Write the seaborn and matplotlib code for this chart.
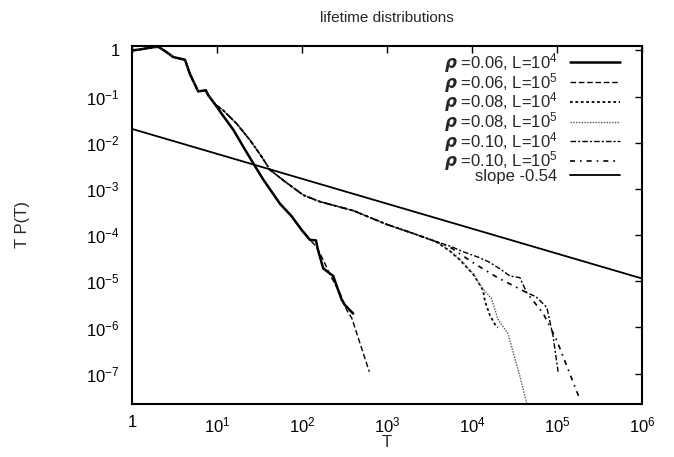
import matplotlib
matplotlib.use("Agg")
import matplotlib.pyplot as plt
import pandas as pd
import seaborn as sns

# shared head of every curve (T < 10)
head_T = [1, 1.24, 1.78, 2.04, 2.45, 3.06, 4.2, 4.8, 6.0, 7.4, 7.9, 9.5]
head_P = [1.0, 1.05, 1.18, 1.2, 0.97, 0.72, 0.63, 0.31, 0.13, 0.137, 0.107, 0.068]

# rho = 0.06
r06_L4_T = [11.3, 15.6, 20.4, 26.7, 35, 55, 75, 99, 124, 146, 154, 178, 233, 266, 293, 318, 400]
r06_L4_P = [0.043, 0.019, 0.0082, 0.0036, 0.0016, 4.8e-4, 2.6e-4, 1.3e-4, 7.9e-5, 7.7e-5,
            4.8e-5, 1.9e-5, 1.3e-5, 6.5e-6, 4.0e-6, 3.1e-6, 2.0e-6]
r06_L5_T = [11.3, 15.6, 20.4, 26.7, 35, 55, 75, 99, 124, 148, 178, 213, 280, 335, 385, 480, 620]
r06_L5_P = [0.043, 0.019, 0.0082, 0.0036, 0.0016, 4.8e-4, 2.6e-4, 1.3e-4, 7.9e-5, 5.6e-5,
            2.9e-5, 1.4e-5, 5.5e-6, 2.4e-6, 1.6e-6, 4.6e-7, 1.1e-7]

# shared middle part of rho = 0.08 / 0.10
mid_T = [11.9, 17, 24.5, 33.5, 42, 60, 103, 163, 400, 1000, 2000, 3800]
mid_P = [0.05, 0.026, 0.0114, 0.005, 0.0026, 0.00155, 7.4e-4, 5.3e-4, 3.4e-4, 1.7e-4, 1.1e-4, 7.2e-5]

r08_L4_T = [5500, 7200, 10400, 13500, 14200, 16300, 19000, 20200]
r08_L4_P = [4.5e-5, 2.9e-5, 1.4e-5, 6.4e-6, 3.7e-6, 1.8e-6, 1.1e-6, 1.0e-6]
r08_L5_T = [5500, 7200, 10400, 13500, 16900, 20200, 26500, 30700, 36600, 44000]
r08_L5_P = [4.6e-5, 3.0e-5, 1.45e-5, 6.8e-6, 4.3e-6, 1.5e-6, 7.4e-7, 2.8e-7, 8.8e-8, 2.3e-8]
r10_L4_T = [5500, 7800, 12000, 16000, 21000, 28000, 36600, 44000, 57000, 76000, 90000, 103000]
r10_L4_P = [5.8e-5, 4.4e-5, 3.3e-5, 2.6e-5, 1.9e-5, 1.3e-5, 1.2e-5, 5.7e-6, 4.6e-6, 2.7e-6,
            6.5e-7, 1.1e-7]
r10_L5_T = [5500, 10400, 20000, 44000, 69000, 98000, 187000]
r10_L5_P = [5.5e-5, 2.5e-5, 1.2e-5, 5.7e-6, 2.0e-6, 5.6e-7, 2.7e-8]

slope_T = [1, 1e6]
slope_P = [0.02, 1.15e-5]

labels = [r"$\mathit{\rho}$ =0.06, L=10$^4$", r"$\mathit{\rho}$ =0.06, L=10$^5$",
          r"$\mathit{\rho}$ =0.08, L=10$^4$", r"$\mathit{\rho}$ =0.08, L=10$^5$",
          r"$\mathit{\rho}$ =0.10, L=10$^4$", r"$\mathit{\rho}$ =0.10, L=10$^5$",
          "slope -0.54"]

series = [
    (head_T + r06_L4_T, head_P + r06_L4_P, dict(lw=1.8, ls="-", color="black")),
    (head_T + r06_L5_T, head_P + r06_L5_P, dict(lw=1.0, ls=(0, (4, 2)), color="black")),
    (head_T + mid_T + r08_L4_T, head_P + mid_P + r08_L4_P, dict(lw=1.3, ls=(0, (1.5, 1.5)), color="black")),
    (head_T + mid_T + r08_L5_T, head_P + mid_P + r08_L5_P, dict(lw=1.0, ls=(0, (1, 1)), color="#555555")),
    (head_T + mid_T + r10_L4_T, head_P + mid_P + r10_L4_P, dict(lw=1.0, ls=(0, (4, 1.5, 1.5, 1.5)), color="black")),
    (head_T + mid_T + r10_L5_T, head_P + mid_P + r10_L5_P, dict(lw=1.2, ls=(0, (3, 3, 1, 3)), color="black")),
    (slope_T, slope_P, dict(lw=1.3, ls="-", color="black")),
]

sns.set_style("white")
plt.rcParams["font.family"] = ["Liberation Sans", "DejaVu Sans"]
plt.rcParams["mathtext.fontset"] = "custom"
plt.rcParams["mathtext.rm"] = "Liberation Sans"
plt.rcParams["mathtext.it"] = "DejaVu Sans:italic:bold"
plt.rcParams["mathtext.default"] = "regular"

fig = plt.figure(figsize=(6.74, 4.57), dpi=100)
ax = fig.add_axes([132 / 674, 1 - 404 / 457, 510 / 674, 358 / 457])

for (t, p, style), lab in zip(series, labels):
    df = pd.DataFrame({"T": t, "P": p})
    sns.lineplot(data=df, x="T", y="P", ax=ax, sort=False, estimator=None,
                 label=lab, **style)

ax.set_xscale("log")
ax.set_yscale("log")
ax.set_xlim(1, 1e6)
ax.set_ylim(2.2e-8, 1.25)

xt = [1, 1e1, 1e2, 1e3, 1e4, 1e5, 1e6]
ax.set_xticks(xt)
ax.set_xticklabels(["1"] + [r"10$^{%d}$" % i for i in range(1, 7)])
yt = [1, 1e-1, 1e-2, 1e-3, 1e-4, 1e-5, 1e-6, 1e-7]
ax.set_yticks(yt)
ax.set_yticklabels(["1"] + [r"10$^{-%d}$" % i for i in range(1, 8)])
ax.minorticks_off()
ax.tick_params(direction="in", top=True, right=True, length=5, width=1,
               labelsize=12, colors="black")
ax.tick_params(axis="x", pad=8)
ax.tick_params(axis="y", pad=9)
for s in ax.spines.values():
    s.set_linewidth(1.5)
    s.set_color("black")

ax.set_xlabel("T", fontsize=12, labelpad=0)
ax.set_ylabel("T P(T)", fontsize=12, labelpad=40)
ax.set_title("lifetime distributions", fontsize=11, pad=17)

leg = ax.legend(loc="upper right", bbox_to_anchor=(0.97, 1.005), frameon=False,
                markerfirst=False, fontsize=12, handlelength=3.0,
                handletextpad=0.75, labelspacing=-0.25, borderaxespad=0)

fig.savefig("out.png", dpi=100)
